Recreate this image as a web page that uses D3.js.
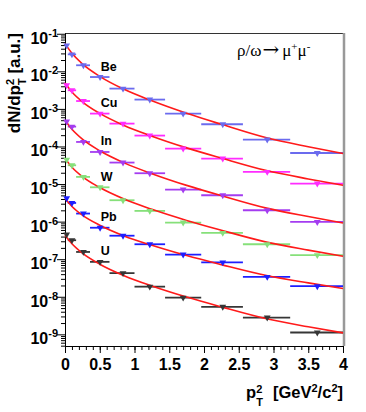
<!DOCTYPE html>
<html>
<head>
<meta charset="utf-8">
<script src="https://cdn.jsdelivr.net/npm/d3@7"></script>
<style>
  body { margin: 0; background: #fff; }
  svg { display: block; }
</style>
</head>
<body>
<div id="chart"></div>
<script>
// p_T^2 bins (GeV^2/c^2)
var binLo  = [0, 0.04, 0.16, 0.36, 0.64, 1.00, 1.44, 1.96, 2.56, 3.24];
var binHi  = [0.04, 0.16, 0.36, 0.64, 1.00, 1.44, 1.96, 2.56, 3.24, 4.00];
var binMid = [0.024, 0.10, 0.265, 0.505, 0.835, 1.22, 1.70, 2.27, 2.91, 3.63];

// dN/dp_T^2 per target nucleus
var nuclei = ['Be', 'Cu', 'In', 'W', 'Pb', 'U'];
var yieldBe = [4.9e-2, 2.83e-2, 1.45e-2, 7.05e-3, 3.47e-3, 1.77e-3, 7.5e-4, 3.9e-4, 1.53e-4, 6.7e-5];
var yieldCu = [4.25e-3, 3.13e-3, 1.62e-3, 7.5e-4, 4.06e-4, 1.95e-4, 8.8e-5, 4.77e-5, 2.1e-5, 1.03e-5];
var yieldIn = [4.62e-4, 3.38e-4, 1.32e-4, 7.14e-5, 3.73e-5, 1.94e-5, 7.14e-6, 5.04e-6, 2.01e-6, 9.8e-7];
var yieldW  = [4.42e-5, 3.16e-5, 1.55e-5, 8.2e-6, 3.71e-6, 1.93e-6, 9.46e-7, 5.0e-7, 2.5e-7, 1.28e-7];
var yieldPb = [4.19e-6, 3.14e-6, 1.64e-6, 6.88e-7, 4.22e-7, 2.5e-7, 1.33e-7, 8.2e-8, 3.38e-8, 1.91e-8];
var yieldU  = [4.54e-7, 3.2e-7, 1.56e-7, 8.5e-8, 4.26e-8, 1.86e-8, 9.5e-9, 5.4e-9, 2.8e-9, 1.12e-9];

// fit curves as log10(dN/dp_T^2) at fitX
var fitX = [0, 0.1, 0.25, 0.5, 0.85, 1.25, 1.75, 2.25, 2.9, 3.5, 4];
var fitBe = [-1.263, -1.521, -1.801, -2.133, -2.479, -2.785, -3.117, -3.410, -3.769, -4.008, -4.189];
var fitCu = [-2.311, -2.551, -2.811, -3.120, -3.441, -3.726, -4.037, -4.309, -4.641, -4.864, -5.032];
var fitIn = [-3.303, -3.543, -3.806, -4.114, -4.436, -4.723, -5.035, -5.309, -5.641, -5.864, -6.035];
var fitW  = [-4.322, -4.551, -4.801, -5.093, -5.399, -5.673, -5.968, -6.229, -6.545, -6.758, -6.920];
var fitPb = [-5.386, -5.596, -5.827, -6.096, -6.380, -6.630, -6.904, -7.144, -7.434, -7.630, -7.779];
var fitU  = [-6.362, -6.590, -6.840, -7.133, -7.439, -7.713, -8.008, -8.269, -8.585, -8.798, -8.960];

// axes
var yDecades = [-1, -2, -3, -4, -5, -6, -7, -8, -9];
var xTicks = [0, 0.5, 1, 1.5, 2, 2.5, 3, 3.5, 4];

var yields = [yieldBe, yieldCu, yieldIn, yieldW, yieldPb, yieldU];
var fits = [fitBe, fitCu, fitIn, fitW, fitPb, fitU];
var colors = ['#6b6bee', '#ff2cff', '#a43cf0', '#86e07a', '#1e1eff', '#363636'];

var width = 366,
    height = 412,
    fLeft = 65, fRight = 343, fTop = 33, fBottom = 346;

var x = d3.scaleLinear().domain([0, 4]).range([fLeft, fRight]);
var y = d3.scaleLog().domain([Math.pow(10, -9.31), Math.pow(10, -0.98)]).range([fBottom, fTop]);

var svg = d3.select('#chart').append('svg')
    .attr('width', width)
    .attr('height', height);

var boldFont = 'Liberation Sans, Arial, Helvetica, sans-serif';

// frame
svg.append('line')
    .attr('x1', fLeft).attr('x2', fRight + 1.5)
    .attr('y1', fTop + 0.5).attr('y2', fTop + 0.5)
    .attr('stroke', '#333').attr('stroke-width', 1);
svg.append('line')
    .attr('x1', fRight + 1).attr('x2', fRight + 1)
    .attr('y1', fTop).attr('y2', fBottom)
    .attr('stroke', '#999').attr('stroke-width', 2.5);

// y axis, major + minor ticks
var minorY = [];
for (var e = -10; e <= -1; e++) {
  for (var m = 2; m <= 9; m++) {
    var v = m * Math.pow(10, e);
    if (v >= y.domain()[0] && v <= y.domain()[1]) minorY.push(v);
  }
}
var gy = svg.append('g').attr('transform', 'translate(' + fLeft + ',0)');
gy.call(d3.axisLeft(y).tickValues(minorY).tickSize(4).tickSizeOuter(0).tickFormat(''));
gy.append('g').call(d3.axisLeft(y)
    .tickValues(yDecades.map(function(d) { return Math.pow(10, d); }))
    .tickSize(8).tickSizeOuter(0).tickFormat(''));
gy.selectAll('path, line').attr('stroke', '#000');

var ylab = gy.selectAll('text.ylab')
    .data(yDecades)
    .enter().append('text')
    .attr('class', 'ylab')
    .attr('x', -7)
    .attr('y', function(d) { return y(Math.pow(10, d)) + 10; })
    .attr('text-anchor', 'end')
    .style('font-family', boldFont)
    .style('font-weight', 'bold')
    .style('font-size', '16px')
    .style('fill', '#000');
ylab.append('tspan').text('10');
ylab.append('tspan')
    .attr('dy', -7)
    .style('font-size', '11px')
    .text(function(d) { return '-' + (-d); });

// x axis, major + minor ticks
var gx = svg.append('g').attr('transform', 'translate(0,' + fBottom + ')');
gx.call(d3.axisBottom(x).ticks(40).tickSize(4).tickSizeOuter(0).tickFormat(''));
gx.append('g').call(d3.axisBottom(x).tickValues(xTicks).tickSize(7).tickSizeOuter(0)
    .tickFormat(d3.format('~g')).tickPadding(6));
gx.selectAll('path, line').attr('stroke', '#000');
gx.selectAll('text')
    .style('font-family', boldFont)
    .style('font-weight', 'bold')
    .style('font-size', '16px')
    .style('fill', '#000');

// data: bin bars, fit curve, triangle markers
var marker = d3.symbol().type(d3.symbolTriangle).size(20);
var fitLine = d3.line()
    .x(function(d) { return x(d[0]); })
    .y(function(d) { return y(Math.pow(10, d[1])); })
    .curve(d3.curveMonotoneX);

var series = svg.append('g').selectAll('g.nucleus')
    .data(nuclei)
    .enter().append('g')
    .attr('class', 'nucleus');

series.each(function(name, i) {
  var g = d3.select(this),
      pts = yields[i].map(function(v, k) {
        return { lo: binLo[k], hi: binHi[k], mid: binMid[k], v: v };
      });

  g.selectAll('line.bin')
      .data(pts)
      .enter().append('line')
      .attr('class', 'bin')
      .attr('x1', function(d) { return x(d.lo); })
      .attr('x2', function(d) { return x(d.hi); })
      .attr('y1', function(d) { return y(d.v); })
      .attr('y2', function(d) { return y(d.v); })
      .attr('stroke', colors[i])
      .attr('stroke-width', 1.8);

  g.append('path')
      .datum(fitX.map(function(fx, k) { return [fx, fits[i][k]]; }))
      .attr('fill', 'none')
      .attr('stroke', '#ff1a1a')
      .attr('stroke-width', 1.6)
      .attr('d', fitLine);

  g.selectAll('path.mk')
      .data(pts)
      .enter().append('path')
      .attr('class', 'mk')
      .attr('d', marker)
      .attr('transform', function(d) {
        return 'translate(' + x(d.mid) + ',' + y(d.v) + ') rotate(180)';
      })
      .attr('fill', colors[i]);

  g.append('text')
      .attr('x', x(0.5) + 1)
      .attr('y', y(yields[i][3]) - 6.5)
      .style('font-family', boldFont)
      .style('font-weight', 'bold')
      .style('font-size', '12.5px')
      .style('fill', '#000')
      .text(name);
});

// y title
var yt = svg.append('text')
    .attr('transform', 'translate(20,' + fTop + ') rotate(-90)')
    .attr('text-anchor', 'end')
    .style('font-family', boldFont)
    .style('font-weight', 'bold')
    .style('font-size', '17px')
    .style('fill', '#000');
yt.append('tspan').text('dN/dp');
yt.append('tspan').attr('dy', -6).style('font-size', '11px').text('2');
yt.append('tspan').attr('dx', -6.1).attr('dy', 12).style('font-size', '11px').text('T');
yt.append('tspan').attr('dy', -6).text(' [a.u.]');

// x title, right-aligned to the frame
var xt = svg.append('text')
    .attr('x', fRight)
    .attr('y', 398)
    .attr('text-anchor', 'end')
    .style('font-family', boldFont)
    .style('font-weight', 'bold')
    .style('font-size', '16.5px')
    .style('fill', '#000');
xt.append('tspan').text('p');
xt.append('tspan').attr('dy', -5).style('font-size', '11px').text('2');
xt.append('tspan').attr('dx', -6.1).attr('dy', 13).style('font-size', '11px').text('T');
xt.append('tspan').attr('dx', 10).attr('dy', -8).text('[GeV');
xt.append('tspan').attr('dy', -6).style('font-size', '11px').text('2');
xt.append('tspan').attr('dy', 6).text('/c');
xt.append('tspan').attr('dy', -6).style('font-size', '11px').text('2');
xt.append('tspan').attr('dy', 6).text(']');

// process label
var pl = svg.append('text')
    .attr('x', 237)
    .attr('y', 56)
    .style('font-family', 'Liberation Serif, Times New Roman, serif')
    .style('font-size', '17px')
    .style('fill', '#000');
pl.append('tspan').text('ρ/ω');
pl.append('tspan').attr('dx', 1).style('font-family', 'DejaVu Serif, serif').style('font-size', '20px').text('→');
pl.append('tspan').attr('dx', 3).text('μ');
pl.append('tspan').attr('dy', -6).style('font-size', '11px').text('+');
pl.append('tspan').attr('dy', 6).text('μ');
pl.append('tspan').attr('dy', -6).style('font-size', '11px').text('-');
</script>
</body>
</html>
